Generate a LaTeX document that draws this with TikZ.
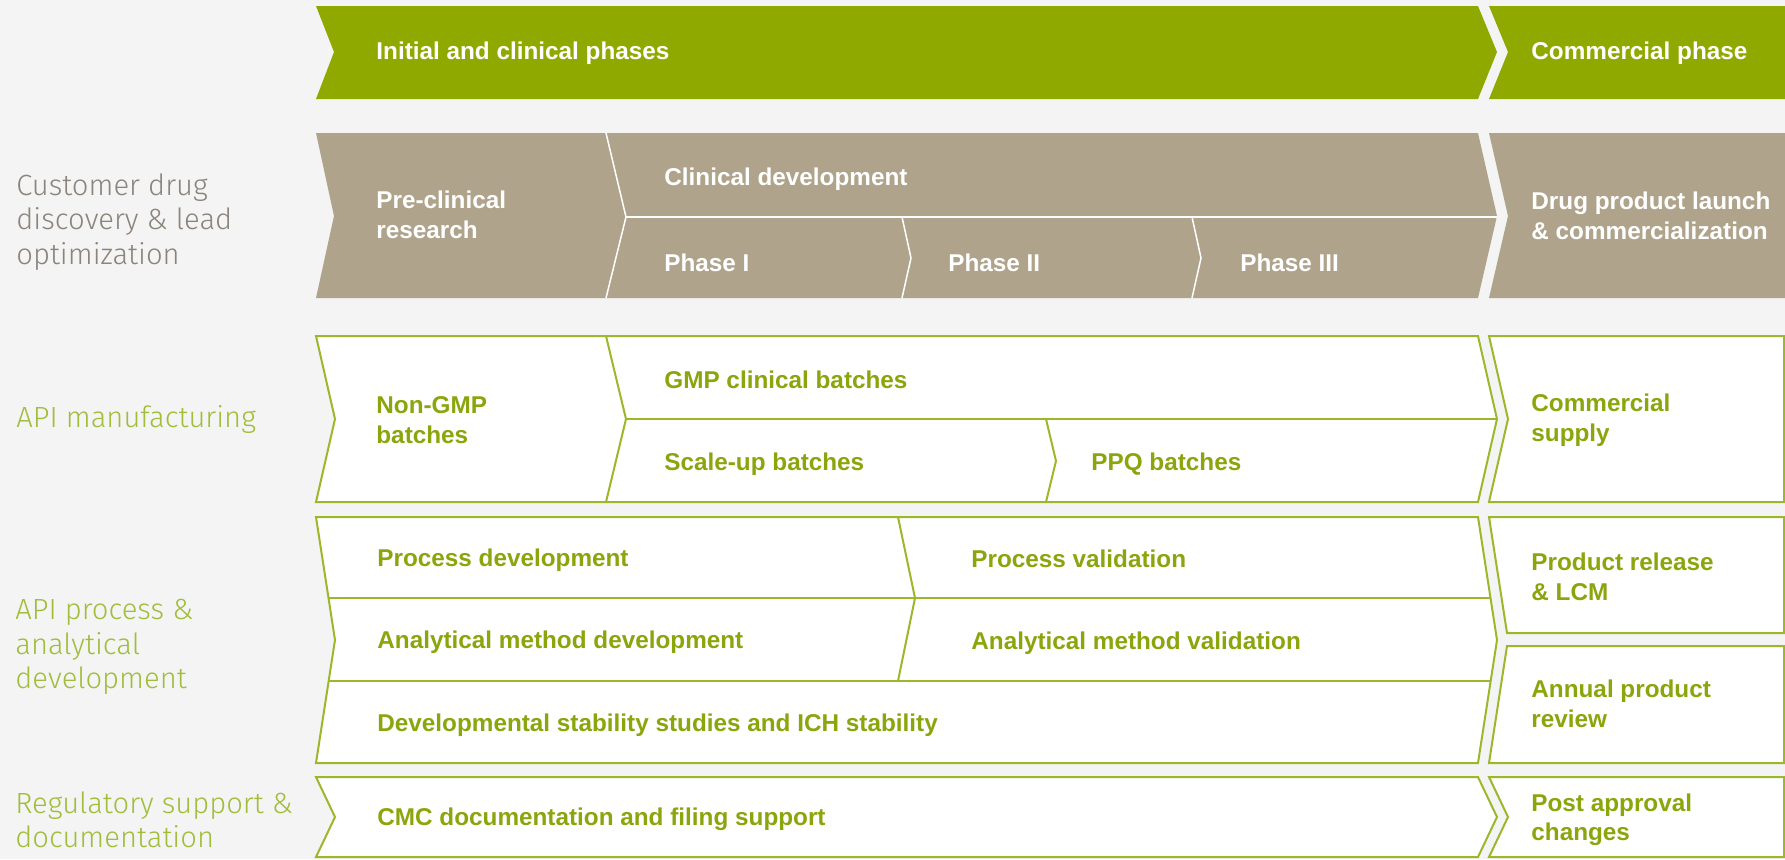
\documentclass[tikz,border=0pt]{standalone}
\usepackage{fontspec}
\setmainfont{Liberation Sans}
\newfontfamily\thinfont{Fira Sans Light}
\usetikzlibrary{calc}

\definecolor{pagegrey}{HTML}{F4F4F4}
\definecolor{leafgreen}{HTML}{90A900}
\definecolor{stonebrown}{HTML}{AFA38B}
\definecolor{linegreen}{HTML}{9CB82A}
\definecolor{textgreen}{HTML}{8AA60C}
\definecolor{labelgrey}{HTML}{8A847C}
\definecolor{labelgreen}{HTML}{A2BD3C}

\newcommand{\cellfont}{\bfseries\fontsize{12.15}{14.75}\selectfont}
\newcommand{\sidefont}{\thinfont\fontsize{14.6}{17.2}\selectfont}

\tikzstyle{banner}  = [fill=leafgreen]
\tikzstyle{stage}   = [fill=stonebrown]
\tikzstyle{cell}    = [draw=linegreen, line width=1pt, fill=white, line join=miter]
\tikzstyle{gap}     = [draw=white, line width=0.75pt]
\tikzstyle{divider} = [draw=linegreen, line width=1pt]
\tikzstyle{hdr}     = [anchor=west, inner sep=0pt, align=left, text=white, font=\cellfont]
\tikzstyle{txt}     = [hdr, text=textgreen]
\tikzstyle{side}    = [anchor=west, inner sep=0pt, align=left, font=\sidefont]

\begin{document}
\begin{tikzpicture}[x=0.5pt, y=-0.5pt]

    \fill[pagegrey] (0,0) rectangle (1785,859);
    \useasboundingbox (0,0) rectangle (1785,859);

    % top banner
    \path[banner] (316,6) -- (1478,6) -- (1497,52) -- (1478,99) -- (316,99) -- (334,52) -- cycle;
    \path[banner] (1489,6) -- (1785,6) -- (1785,99) -- (1489,99) -- (1508,52) -- cycle;

    % discovery and clinical stages
    \path[stage] (316,133) -- (1478,133) -- (1497,216) -- (1478,298) -- (316,298) -- (334,216) -- cycle;
    \path[stage] (1489,133) -- (1785,133) -- (1785,298) -- (1489,298) -- (1508,216) -- cycle;
    \draw[gap] (606,133) -- (626,217) -- (606,298);
    \draw[gap] (626,217) -- (1497,217);
    \draw[gap] (902,217) -- (911,258) -- (902,298);
    \draw[gap] (1192,217) -- (1201,258) -- (1192,298);

    % API manufacturing
    \path[cell] (316,336) -- (1478,336) -- (1497,419) -- (1478,502) -- (316,502) -- (335,419) -- cycle;
    \path[cell] (1489,336) -- (1784,336) -- (1784,502) -- (1489,502) -- (1508,419) -- cycle;
    \draw[divider] (606,336) -- (626,419) -- (606,502);
    \draw[divider] (626,419) -- (1497,419);
    \draw[divider] (1046,419) -- (1056,461) -- (1046,502);

    % process and analytical development
    \path[cell] (316,517) -- (1478,517) -- (1497,640) -- (1478,763) -- (316,763) -- (335,640) -- cycle;
    \draw[divider] (328.5,598) -- (1490.5,598);
    \draw[divider] (328.7,681) -- (1490.7,681);
    \draw[divider] (898,517) -- (915,598) -- (898,681);
    \path[cell] (1489,517) -- (1784,517) -- (1784,633) -- (1507,633) -- cycle;
    \path[cell] (1507,646) -- (1784,646) -- (1784,763) -- (1489,763) -- cycle;

    % regulatory support
    \path[cell] (316,777) -- (1478,777) -- (1497,817) -- (1478,857) -- (316,857) -- (335,817) -- cycle;
    \path[cell] (1489,777) -- (1784,777) -- (1784,857) -- (1489,857) -- (1508,817) -- cycle;

    % texts
    \node[hdr] (initial)    at (376,53)  {Initial and clinical phases};
    \node[hdr] (commercial) at (1531,53) {Commercial phase};

    \node[hdr] (preclin)  at (376,215)  {Pre-clinical\\research};
    \node[hdr] (clindev)  at (664,179)  {Clinical development};
    \node[hdr] (ph1)      at (664,263)  {Phase I};
    \node[hdr] (ph2)      at (948,263)  {Phase II};
    \node[hdr] (ph3)      at (1240,263) {Phase III};
    \node[hdr] (launch)   at (1531,216) {Drug product launch\\\& commercialization};

    \node[txt] (nongmp)   at (376,420)  {Non-GMP\\batches};
    \node[txt] (gmp)      at (664,380)  {GMP clinical batches};
    \node[txt] (scaleup)  at (664,464)  {Scale-up batches};
    \node[txt] (ppq)      at (1091,464) {PPQ batches};
    \node[txt] (supply)   at (1531,420) {Commercial\\supply};

    \node[txt] (procdev)  at (377,560)  {Process development};
    \node[txt] (procval)  at (971,559)  {Process validation};
    \node[txt] (amd)      at (377,642)  {Analytical method development};
    \node[txt] (amv)      at (971,643)  {Analytical method validation};
    \node[txt] (stab)     at (377,725)  {Developmental stability studies and ICH stability};
    \node[txt] (release)  at (1531,577) {Product release\\\& LCM};
    \node[txt] (apr)      at (1531,704) {Annual product\\review};

    \node[txt] (cmc)      at (377,819)  {CMC documentation and filing support};
    \node[txt] (postappr) at (1531,820) {Post approval\\changes};

    % row labels
    \node[side, text=labelgrey]  (lblcust) at (16,222) {Customer drug\\discovery \& lead\\optimization};
    \node[side, text=labelgreen] (lblapi)  at (16,419) {API manufacturing};
    \node[side, text=labelgreen] (lblproc) at (15,647) {API process \&\\analytical\\development};
    \node[side, text=labelgreen] (lblreg)  at (15,820) {Regulatory support \&\\documentation};

\end{tikzpicture}
\end{document}
